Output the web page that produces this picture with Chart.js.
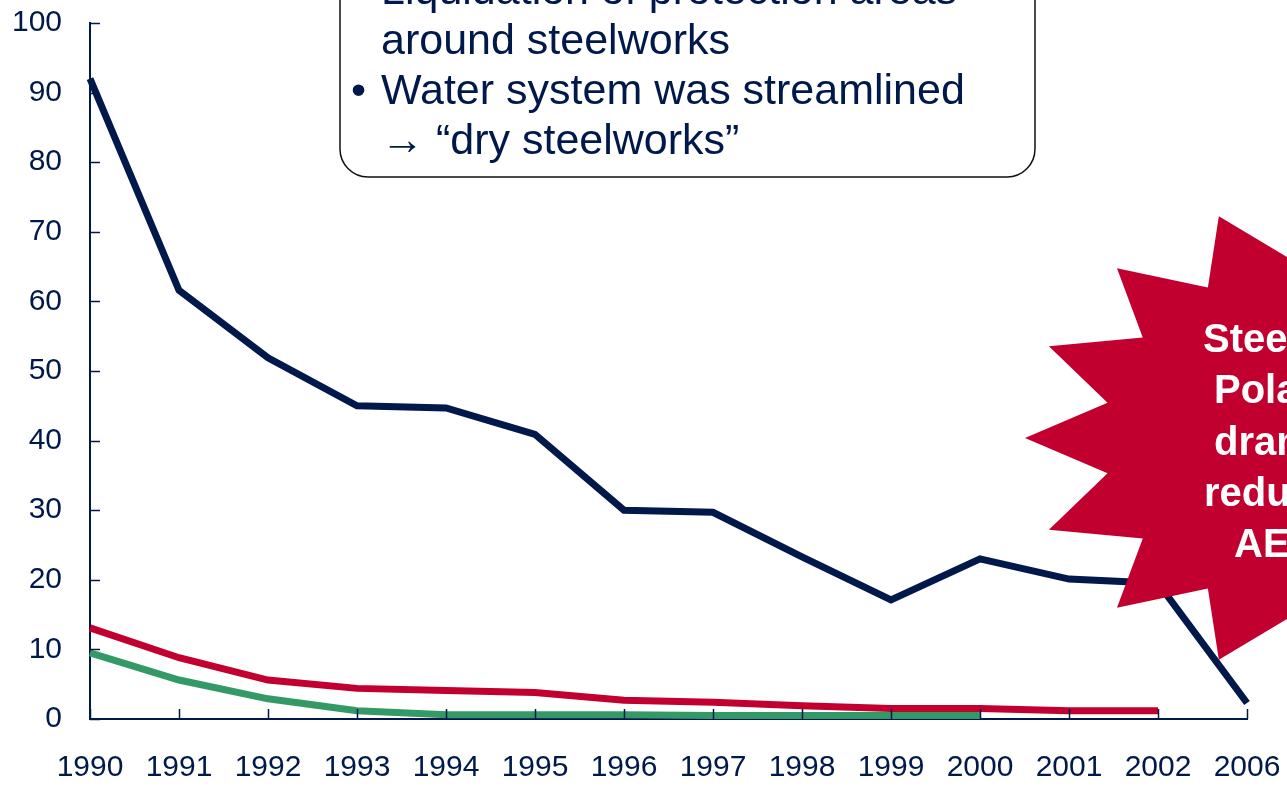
<!DOCTYPE html>
<html>
<head>
<meta charset="utf-8">
<script src="https://cdn.jsdelivr.net/npm/chart.js@4/dist/chart.umd.min.js"></script>
<style>
    html, body { margin: 0; padding: 0; background: #fff; }
    #wrap { width: 1287px; height: 789px; }
</style>
</head>
<body>
<div id="wrap"><canvas id="aeChart" width="1287" height="789"></canvas></div>
<script>
const years = ['1990', '1991', '1992', '1993', '1994', '1995', '1996', '1997', '1998', '1999', '2000', '2001', '2002', '2006'];
const navySeries = [92, 61.6, 51.9, 45.0, 44.7, 40.9, 30.0, 29.7, 23.3, 17.1, 23.0, 20.1, 19.5, 2.3];
const redSeries = [13.1, 8.8, 5.6, 4.4, 4.1, 3.8, 2.7, 2.4, 1.9, 1.5, 1.5, 1.2, 1.2, null];
const greenSeries = [9.5, 5.6, 2.9, 1.2, 0.6, 0.6, 0.6, 0.5, 0.5, 0.5, 0.5, null, null, null];
const yTicks = [0, 10, 20, 30, 40, 50, 60, 70, 80, 90, 100];

const boxLines = ['Liquidation of protection areas', 'around steelworks', 'Water system was streamlined', '\u2192 \u201Cdry steelworks\u201D'];
const starLines = ['Steel sector in', 'Poland has', 'dramatically', 'reduced its', 'AE levels'];

const NAVY = '#00194a';
const RED = '#c2002f';
const GREEN = '#339966';

// ticks pointing inwards, text box and the red star
const extras = {
    id: 'extras',
    afterDraw(chart) {
        const ctx = chart.ctx;
        const xs = chart.scales.x;
        const ys = chart.scales.y;
        const area = chart.chartArea;

        ctx.save();
        ctx.strokeStyle = NAVY;
        ctx.lineWidth = 1.5;
        ctx.beginPath();
        yTicks.forEach(v => {
            const y = Math.round(ys.getPixelForValue(v)) + 0.5;
            ctx.moveTo(area.left, y);
            ctx.lineTo(area.left + 10, y);
        });
        years.forEach((yr, i) => {
            const x = Math.round(xs.getPixelForValue(i)) + 0.5;
            ctx.moveTo(x, area.bottom);
            ctx.lineTo(x, area.bottom - 10);
        });
        ctx.stroke();

        // text box at the top
        ctx.beginPath();
        ctx.roundRect(340, -40, 695, 217, 28);
        ctx.fillStyle = '#fff';
        ctx.fill();
        ctx.strokeStyle = '#111';
        ctx.lineWidth = 1.5;
        ctx.stroke();

        ctx.fillStyle = NAVY;
        ctx.font = '43px "Liberation Sans", Arial, sans-serif';
        ctx.textAlign = 'left';
        ctx.textBaseline = 'alphabetic';
        const baselines = [4, 54, 104, 154];
        boxLines.forEach((t, i) => ctx.fillText(t, 381, baselines[i]));
        ctx.fillText('\u2022', 351, 4);
        ctx.fillText('\u2022', 351, 104);

        // starburst
        const cx = 1339, cy = 438;
        ctx.beginPath();
        for (let k = 0; k < 32; k++) {
            const a = Math.PI - k * Math.PI / 16;
            const rx = k % 2 === 0 ? 314 : 236;
            const ry = k % 2 === 0 ? 240 : 181;
            const px = cx + rx * Math.cos(a);
            const py = cy - ry * Math.sin(a);
            if (k === 0) ctx.moveTo(px, py); else ctx.lineTo(px, py);
        }
        ctx.closePath();
        ctx.fillStyle = RED;
        ctx.fill();

        ctx.fillStyle = '#fff';
        ctx.font = 'bold 40px "Liberation Sans", Arial, sans-serif';
        const starX = [1203, 1214, 1214, 1204, 1234];
        const starBase = [352, 403, 455, 506, 557];
        starLines.forEach((t, i) => ctx.fillText(t, starX[i], starBase[i]));
        ctx.restore();
    }
};

document.addEventListener('DOMContentLoaded', () => {
    const ctx = document.getElementById('aeChart').getContext('2d');

    new Chart(ctx, {
        type: 'line',
        data: {
            labels: years,
            datasets: [
                { label: 'green', data: greenSeries, borderColor: GREEN },
                { label: 'red', data: redSeries, borderColor: RED },
                { label: 'navy', data: navySeries, borderColor: NAVY }
            ].map(ds => Object.assign(ds, {
                borderWidth: 7,
                pointRadius: 0,
                tension: 0,
                fill: false,
                spanGaps: false,
                clip: 10
            }))
        },
        options: {
            responsive: false,
            animation: false,
            devicePixelRatio: 1,
            layout: { padding: { top: 23, right: 40, bottom: 0, left: 0 } },
            plugins: {
                legend: { display: false },
                tooltip: { enabled: false }
            },
            scales: {
                x: {
                    offset: false,
                    grid: { display: false, drawTicks: false },
                    border: { display: true, color: NAVY, width: 2 },
                    ticks: {
                        color: NAVY,
                        font: { family: '"Liberation Sans", Arial, sans-serif', size: 30 },
                        padding: 31,
                        maxRotation: 0,
                        autoSkip: false
                    },
                    afterFit: s => {
                        s.height = 70;
                        s.paddingLeft = 0;
                        s.paddingRight = 0;
                    }
                },
                y: {
                    min: 0,
                    max: 100,
                    grid: { display: false, drawTicks: false },
                    border: { display: true, color: NAVY, width: 2 },
                    ticks: {
                        stepSize: 10,
                        color: NAVY,
                        font: { family: '"Liberation Sans", Arial, sans-serif', size: 30 },
                        padding: 28
                    },
                    afterFit: s => {
                        s.width = 90;
                        s.paddingTop = 0;
                        s.paddingBottom = 0;
                    }
                }
            }
        },
        plugins: [extras]
    });
});
</script>
</body>
</html>
